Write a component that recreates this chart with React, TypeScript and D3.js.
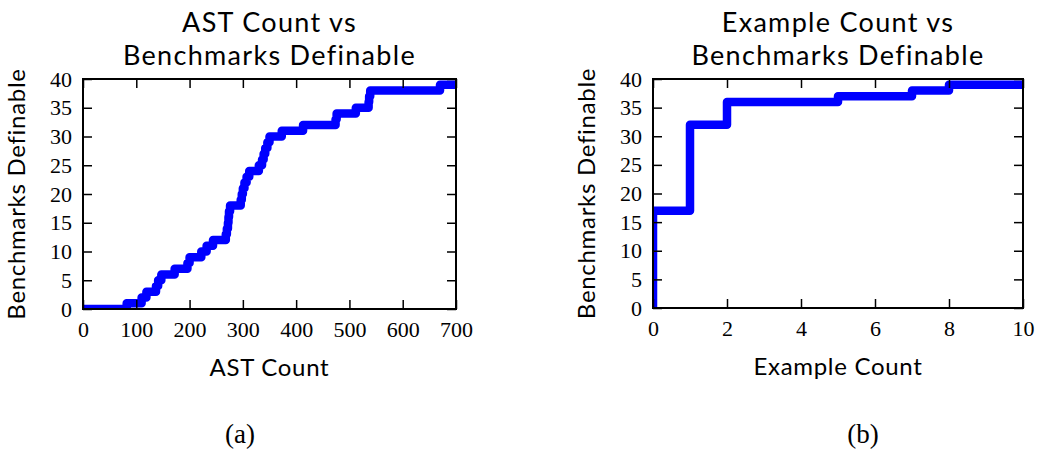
import { useEffect, useMemo, useRef } from 'react';
import * as d3 from 'd3';

// AST count at which the cumulative number of definable benchmarks steps up
const astCounts = [0, 82, 110, 119, 137, 141, 147, 172, 196, 200, 222, 232, 244, 268, 270, 272, 273, 274, 276, 296, 298, 300, 303, 307, 312, 330, 336, 339, 342, 346, 350, 373, 413, 474, 476, 512, 536, 537, 539, 670, 710];
const astDefinable = [0, 1, 2, 3, 4, 5, 6, 7, 8, 9, 10, 11, 12, 13, 14, 15, 16, 17, 18, 19, 20, 21, 22, 23, 24, 25, 26, 27, 28, 29, 30, 31, 32, 33, 34, 35, 36, 37, 38, 39, 39];

const exampleCounts = [0, 0, 1, 2, 5, 7, 8, 10.5];
const exampleDefinable = [0, 17, 32, 36, 37, 38, 39, 39];

const astTicks = [0, 100, 200, 300, 400, 500, 600, 700];
const exampleTicks = [0, 2, 4, 6, 8, 10];
const yTicks = [0, 5, 10, 15, 20, 25, 30, 35, 40];

const SANS = 'Lato, "Open Sans", sans-serif';
const SERIF = '"Liberation Serif", serif';

type PanelProps = {
    id: string;
    left: number;
    top: number;
    width: number;
    height: number;
    xs: number[];
    ys: number[];
    xMax: number;
    xTicks: number[];
    title: string[];
    xLabel: string;
    caption: string;
    captionX: number;
};

const Panel = ({ id, left, top, width, height, xs, ys, xMax, xTicks, title, xLabel, caption, captionX }: PanelProps) => {
    const axesRef = useRef(null);

    const xScale = useMemo(() => d3.scaleLinear().domain([0, xMax]).range([0, width]), [xMax, width]);
    const yScale = useMemo(() => d3.scaleLinear().domain([0, 40]).range([height, 0]), [height]);

    useEffect(() => {
        const g = d3.select(axesRef.current);
        g.selectAll('*').remove();

        // ticks point inwards on all four sides, labels only bottom / left
        g.append('g')
            .attr('transform', `translate(0, ${height})`)
            .call(d3.axisBottom(xScale).tickValues(xTicks).tickSize(-9).tickPadding(12).tickFormat(d3.format('d')));
        g.append('g')
            .call(d3.axisTop(xScale).tickValues(xTicks).tickSize(-9).tickFormat(() => ''));
        g.append('g')
            .call(d3.axisLeft(yScale).tickValues(yTicks).tickSize(-9).tickPadding(11));
        g.append('g')
            .attr('transform', `translate(${width}, 0)`)
            .call(d3.axisRight(yScale).tickValues(yTicks).tickSize(-9).tickFormat(() => ''));

        g.selectAll('.domain').remove();
        g.selectAll('.tick line').attr('stroke', '#000').attr('stroke-width', 1.5);
        g.selectAll('.tick text')
            .attr('fill', '#000')
            .style('font-family', SERIF)
            .style('font-size', '22px');

        g.append('rect')
            .attr('width', width)
            .attr('height', height)
            .attr('fill', 'none')
            .attr('stroke', '#000')
            .attr('stroke-width', 2);
    }, [xScale, yScale, width, height, xTicks]);

    const pts = xs.map((x, i) => [x, ys[i]] as [number, number]);
    const linePath = d3.line<[number, number]>()
        .x((d) => xScale(d[0]))
        .y((d) => yScale(d[1]))
        .curve(d3.curveStepAfter)(pts);

    return (
        <g transform={`translate(${left}, ${top})`}>
            <defs>
                <clipPath id={id}>
                    <rect width={width} height={height} />
                </clipPath>
            </defs>
            <path
                d={linePath || ''}
                clipPath={`url(#${id})`}
                fill="none"
                stroke="#0000ff"
                strokeWidth={8.5}
                strokeLinejoin="round"
                strokeLinecap="square"
            />
            <g ref={axesRef} />
            <text x={width / 2} y={-47} textAnchor="middle" fontFamily={SANS} fontSize={27} letterSpacing={1.3}>{title[0]}</text>
            <text x={width / 2} y={-14} textAnchor="middle" fontFamily={SANS} fontSize={27} letterSpacing={1.3}>{title[1]}</text>
            <text x={width / 2} y={height + 67} textAnchor="middle" fontFamily={SANS} fontSize={24} letterSpacing={0.7}>{xLabel}</text>
            <text
                transform={`translate(-58, ${height / 2}) rotate(-90)`}
                textAnchor="middle"
                fontFamily={SANS}
                fontSize={24}
                letterSpacing={0.7}
            >
                Benchmarks Definable
            </text>
            <text x={captionX - left} y={364} textAnchor="middle" fontFamily={SERIF} fontSize={27}>{caption}</text>
        </g>
    );
};

export default function App() {
    return (
        <svg width={1039} height={450} style={{ position: 'absolute', left: 0, top: 0, background: '#fff' }}>
            <rect width={1039} height={450} fill="#fff" />
            <Panel
                id="clip-ast"
                left={83}
                top={79}
                width={373}
                height={230}
                xs={astCounts}
                ys={astDefinable}
                xMax={700}
                xTicks={astTicks}
                title={['AST Count vs', 'Benchmarks Definable']}
                xLabel="AST Count"
                caption="(a)"
                captionX={240}
            />
            <Panel
                id="clip-example"
                left={653}
                top={79}
                width={370}
                height={229}
                xs={exampleCounts}
                ys={exampleDefinable}
                xMax={10}
                xTicks={exampleTicks}
                title={['Example Count vs', 'Benchmarks Definable']}
                xLabel="Example Count"
                caption="(b)"
                captionX={863}
            />
        </svg>
    );
}
